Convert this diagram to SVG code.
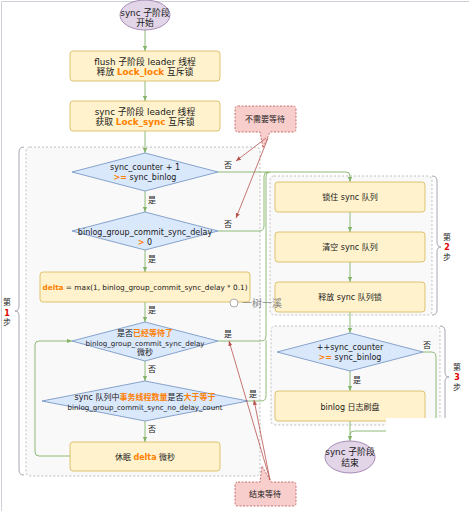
<svg xmlns="http://www.w3.org/2000/svg" width="469" height="511" viewBox="0 0 469 511">
<defs>
<style>
.t{font-family:'DejaVu Sans','Noto Sans CJK SC',sans-serif;font-size:8px;fill:#1a1a1a;text-anchor:middle}
.s9{font-size:8.8px}
.s7{font-size:7.1px}
.o{fill:#ff8000;font-weight:bold}
.r{fill:#e00000;font-weight:bold}
.box{fill:#fff2cc;stroke:#d6b656;stroke-width:0.8}
.dia{fill:#dae8fc;stroke:#6c8ebf;stroke-width:0.8}
.ell{fill:#e1d5e7;stroke:#9673a6;stroke-width:0.8}
.grp{fill:#f9f9f9;stroke:#b0b0b0;stroke-width:0.8;stroke-dasharray:2 2}
.br{fill:none;stroke:#a098a8;stroke-width:0.9}
.c{fill:none;stroke:#82b366;stroke-width:0.9}
.cr{fill:none;stroke:#b85450;stroke-width:0.8}
.call{fill:#f8cecc;stroke:#b85450;stroke-width:0.8;stroke-dasharray:2 1.5}
</style>
<marker id="ag" viewBox="0 0 6 6" refX="6" refY="3" markerWidth="5" markerHeight="5" orient="auto" markerUnits="userSpaceOnUse"><path d="M0,0.5 L6,3 L0,5.5 Z" fill="#82b366"/></marker>
<marker id="ar" viewBox="0 0 6 6" refX="6" refY="3" markerWidth="5" markerHeight="5" orient="auto" markerUnits="userSpaceOnUse"><path d="M0,0.5 L6,3 L0,5.5 Z" fill="#b85450"/></marker>
</defs>
<rect x="0" y="0" width="469" height="511" fill="#ffffff"/>
<path d="M1.5,511 V1.5 H469" fill="none" stroke="#d0d0d8" stroke-width="1"/>

<g id="groups">
<rect id="step1" class="grp" x="26" y="147" width="234" height="329" rx="4"/>
<rect id="step2" class="grp" x="270" y="176" width="162" height="139" rx="4"/>
<rect id="step3" class="grp" x="271" y="326" width="169" height="99" rx="4"/>
<path class="br" d="M24,147 Q19,147 19,152 V306 Q19,311 15,311 Q19,311 19,316 V470 Q19,475 24,475"/>
<path class="br" d="M432,176 Q437,176 437,181 V242 Q437,247 441,247 Q437,247 437,252 V310 Q437,315 432,315"/>
<path class="br" d="M440,326 Q445,326 445,331 V372 Q445,377 449,377 Q445,377 445,382 V420 Q445,425 440,425"/>
<text class="t" x="7" y="305">第</text>
<text class="t r" x="7" y="316">1</text>
<text class="t" x="7" y="325">步</text>
<text class="t" x="447" y="240">第</text>
<text class="t r" x="447" y="250">2</text>
<text class="t" x="447" y="260">步</text>
<text class="t" x="457" y="370">第</text>
<text class="t r" x="457" y="380">3</text>
<text class="t" x="457" y="390">步</text>
</g>

<g id="connectors">
<path class="c" d="M145,30 V51" marker-end="url(#ag)"/>
<path class="c" d="M145,81 V101" marker-end="url(#ag)"/>
<path class="c" d="M145,131 V153" marker-end="url(#ag)"/>
<path class="c" d="M145,191 V212" marker-end="url(#ag)"/>
<path class="c" d="M145,250 V272" marker-end="url(#ag)"/>
<path class="c" d="M145,302 V322" marker-end="url(#ag)"/>
<path class="c" d="M145,361 V381" marker-end="url(#ag)"/>
<path class="c" d="M145,421 V442" marker-end="url(#ag)"/>
<path class="c" d="M70,456 H39 Q35,456 35,452 V345 Q35,341 39,341 H72" marker-end="url(#ag)"/>
<path class="c" d="M218,172 H346 Q350,172 350,176 V182" marker-end="url(#ag)"/>
<path class="c" d="M218,231 H259 Q264,231 264,226 V176 Q264,172 268,172"/>
<path class="c" d="M218,341 H261 Q266,341 266,336 V176 Q266,172 270,172"/>
<path class="c" d="M248,401 H261 Q266,401 266,396 V340"/>
<path class="c" d="M350,212 V232" marker-end="url(#ag)"/>
<path class="c" d="M350,262 V282" marker-end="url(#ag)"/>
<path class="c" d="M350,312 V333" marker-end="url(#ag)"/>
<path class="c" d="M350,371 V391" marker-end="url(#ag)"/>
<path class="c" d="M350,421 V441" marker-end="url(#ag)"/>
<path class="c" d="M423,352 H431 Q436,352 436,357 V427 Q436,431 432,431 H354 Q350,431 350,435"/>
<text class="t" x="228" y="168">否</text>
<text class="t" x="152" y="203">是</text>
<text class="t" x="228" y="227">否</text>
<text class="t" x="152" y="262">是</text>
<text class="t" x="152" y="313">是</text>
<text class="t" x="228" y="337">是</text>
<text class="t" x="152" y="372">否</text>
<text class="t" x="253" y="397">是</text>
<text class="t" x="152" y="432">否</text>
<text class="t" x="427" y="348">否</text>
<text class="t" x="357" y="383">是</text>
</g>

<g id="start">
<ellipse class="ell" cx="145" cy="15" rx="25" ry="15"/>
<text class="t s9" x="145" y="16">sync 子阶段</text>
<text class="t s9" x="145" y="26">开始</text>
</g>
<g id="flush">
<rect class="box" x="70" y="51" width="150" height="30" rx="3"/>
<text class="t s9" x="145" y="65">flush 子阶段 leader 线程</text>
<text class="t s9" x="145" y="75">释放 <tspan class="o">Lock_lock</tspan> 互斥锁</text>
</g>
<g id="acquire">
<rect class="box" x="70" y="101" width="150" height="30" rx="3"/>
<text class="t s9" x="145" y="115">sync 子阶段 leader 线程</text>
<text class="t s9" x="145" y="125">获取 <tspan class="o">Lock_sync</tspan> 互斥锁</text>
</g>
<g id="d1">
<polygon class="dia" points="145,153 218,172 145,191 72,172"/>
<text class="t" x="145" y="170">sync_counter + 1</text>
<text class="t" x="145" y="180"><tspan class="o">&gt;=</tspan> sync_binlog</text>
</g>
<g id="d2">
<polygon class="dia" points="145,212 218,231 145,250 72,231"/>
<text class="t" x="145" y="235">binlog_group_commit_sync_delay</text>
<text class="t" x="145" y="245"><tspan class="o">&gt;</tspan> 0</text>
</g>
<g id="delta">
<rect class="box" x="40" y="272" width="210" height="30" rx="3"/>
<text class="t" x="145" y="290" style="font-size:7.3px"><tspan class="o">delta</tspan> = max(1, binlog_group_commit_sync_delay * 0.1)</text>
</g>
<g id="d3">
<polygon class="dia" points="145,322 218,341 145,361 72,341"/>
<text class="t" x="145" y="336">是否<tspan class="o">已经等待了</tspan></text>
<text class="t s7" x="145" y="346">binlog_group_commit_sync_delay</text>
<text class="t" x="145" y="355">微秒</text>
</g>
<g id="d4">
<polygon class="dia" points="145,381 248,401 145,421 42,401"/>
<text class="t" x="145" y="400">sync 队列中<tspan class="o">事务线程数量</tspan>是否<tspan class="o">大于等于</tspan></text>
<text class="t s7" x="145" y="410">binlog_group_commit_sync_no_delay_count</text>
</g>
<g id="sleep">
<rect class="box" x="70" y="442" width="150" height="29" rx="3"/>
<text class="t" x="145" y="460">休眠 <tspan class="o">delta</tspan> 微秒</text>
</g>
<g id="lockq">
<rect class="box" x="275" y="182" width="150" height="30" rx="3"/>
<text class="t" x="350" y="200">锁住 sync 队列</text>
</g>
<g id="clearq">
<rect class="box" x="275" y="232" width="150" height="30" rx="3"/>
<text class="t" x="350" y="250">清空 sync 队列</text>
</g>
<g id="releaseq">
<rect class="box" x="275" y="282" width="150" height="30" rx="3"/>
<text class="t" x="350" y="300">释放 sync 队列锁</text>
</g>
<g id="d5">
<polygon class="dia" points="350,333 423,352 350,371 277,352"/>
<text class="t" x="350" y="350">++sync_counter</text>
<text class="t" x="350" y="360"><tspan class="o">&gt;=</tspan> sync_binlog</text>
</g>
<g id="flushdisk">
<rect class="box" x="275" y="391" width="150" height="30" rx="3"/>
<text class="t" x="350" y="410">binlog 日志刷盘</text>
</g>
<g id="end">
<ellipse class="ell" cx="350" cy="457" rx="25" ry="16"/>
<text class="t s9" x="350" y="455">sync 子阶段</text>
<text class="t s9" x="350" y="466">结束</text>
</g>

<g id="callout-nowait">
<path class="call" d="M238,106 H293 Q296,106 296,109 V129 Q296,132 293,132 H270 L263,148 L260,132 H238 Q235,132 235,129 V109 Q235,106 238,106 Z"/>
<text class="t" x="265" y="122">不需要等待</text>
<path class="cr" d="M266,138 L236,161" marker-end="url(#ar)"/>
<path class="cr" d="M268,138 L236,218" marker-end="url(#ar)"/>
</g>
<g id="callout-endwait">
<path class="call" d="M238,482 H260 L262,466 L271,482 H293 Q296,482 296,485 V503 Q296,506 293,506 H238 Q235,506 235,503 V485 Q235,482 238,482 Z"/>
<text class="t" x="265" y="497">结束等待</text>
<path class="cr" d="M270,480 L229,341" marker-end="url(#ar)"/>
<path class="cr" d="M270,480 L254,400" marker-end="url(#ar)"/>
</g>

<g id="watermark">
<circle cx="234" cy="303" r="4" fill="#ffffff" stroke="#888" stroke-width="0.7"/>
<text x="242" y="307" style="font-family:'Noto Sans CJK SC',sans-serif;font-size:10px;fill:#888">一树一溪</text>
</g>
<rect x="386" y="418" width="83" height="17" fill="#ffffff"/>
</svg>
